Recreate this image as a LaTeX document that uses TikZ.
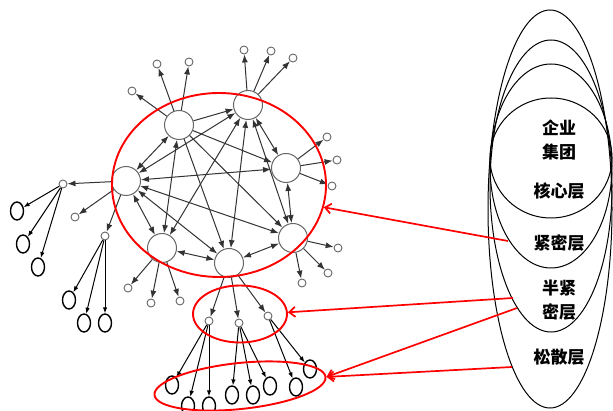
\documentclass[tikz,border=0pt]{standalone}
\usepackage{fontspec}
\newfontfamily\cjk{Noto Sans CJK SC}
\usetikzlibrary{shapes.geometric,arrows.meta}
\tikzset{
  hub/.style={circle,draw=black!60,fill=white,line width=1pt,minimum size=29pt,inner sep=0pt},
  leaf/.style={circle,draw=black!60,fill=white,line width=0.9pt,minimum size=8pt,inner sep=0pt},
  egg/.style={ellipse,draw=black,line width=1.4pt,minimum width=13pt,minimum height=18pt,inner sep=0pt},
  link/.style={draw=black!80,line width=1pt,-{Latex[length=8pt,width=6pt]}},
  both/.style={link,{Latex[length=8pt,width=6pt]}-{Latex[length=8pt,width=6pt]}},
  drop/.style={draw=black,line width=1pt,-{Latex[length=6pt,width=4.5pt]}},
  ring/.style={ellipse,draw=red,line width=1.9pt,inner sep=0pt},
  layer/.style={ellipse,draw=black,line width=1pt,inner sep=0pt},
  tag/.style={font=\cjk\bfseries\fontsize{17}{24}\selectfont,align=center},
  pointer/.style={draw=red,line width=1.7pt,-{Straight Barb[length=6pt,width=10pt]}}
}
\begin{document}
\begin{tikzpicture}[x=1pt,y=-1pt]
  \useasboundingbox (0,0) rectangle (613,411);
  % core group
  \node[hub] (ha) at (179,125) {};
  \node[hub] (hb) at (248,105) {};
  \node[hub] (hc) at (286,168) {};
  \node[hub] (hd) at (126,181) {};
  \node[hub] (he) at (162,248) {};
  \node[hub] (hf) at (229,263) {};
  \node[hub] (hg) at (293,238) {};
  \foreach \s/\t in {ha/hb,ha/hc,ha/hf,ha/hg}
    \draw[link] (\s) -- (\t);
  \foreach \s/\t in {ha/hd,ha/he,hb/hc,hb/hd,hb/he,hb/hf,hb/hg,hc/hd,hc/hg,
                     hd/he,hd/hf,hd/hg,he/hf,hf/hg}
    \draw[both] (\s) -- (\t);
  % tight layer: small leaves round the core
  \node[leaf] (la1) at (132,91) {};
  \node[leaf] (la2) at (157,64) {};
  \node[leaf] (la3) at (189,62) {};
  \node[leaf] (lb1) at (244,50) {};
  \node[leaf] (lb2) at (271,51) {};
  \node[leaf] (lb3) at (293,58) {};
  \node[leaf] (lc1) at (327,137) {};
  \node[leaf] (lc2) at (337,160) {};
  \node[leaf] (lc3) at (332,186) {};
  \node[leaf] (ld1) at (63,184) {};
  \node[leaf] (ld2) at (75,217) {};
  \node[leaf] (ld3) at (105,236) {};
  \node[leaf] (le1) at (128,288) {};
  \node[leaf] (le2) at (151,303) {};
  \node[leaf] (le3) at (180,301) {};
  \node[leaf] (lf1) at (209,321) {};
  \node[leaf] (lf2) at (239,323) {};
  \node[leaf] (lf3) at (268,316) {};
  \node[leaf] (lg1) at (302,283) {};
  \node[leaf] (lg2) at (328,273) {};
  \node[leaf] (lg3) at (338,248) {};
  \foreach \h in {a,b,c,d,e,f,g}
    \foreach \k in {1,2,3}
      \draw[link] (h\h) -- (l\h\k);
  % loose layer: black ovals
  \node[egg] (ea1) at (17,211) {};
  \node[egg] (ea2) at (23,244) {};
  \node[egg] (ea3) at (38,267) {};
  \node[egg] (eb1) at (69,300) {};
  \node[egg] (eb2) at (84,323) {};
  \node[egg] (eb3) at (105,323) {};
  \node[egg] (ec1) at (172,385) {};
  \node[egg] (ec2) at (188,406) {};
  \node[egg] (ec3) at (209,406) {};
  \node[egg] (ed1) at (232,395) {};
  \node[egg] (ed2) at (253,395) {};
  \node[egg] (ed3) at (270,386) {};
  \node[egg] (ee1) at (296,387) {};
  \node[egg] (ee2) at (310,369) {};
  \foreach \s/\t in {ld1/ea1,ld1/ea2,ld1/ea3,ld3/eb1,ld3/eb2,ld3/eb3,
                     lf1/ec1,lf1/ec2,lf1/ec3,lf2/ed1,lf2/ed2,lf2/ed3,lf3/ee1,lf3/ee2}
    \draw[drop] (\s) -- (\t);
  % red rings
  \node[ring,minimum width=214pt,minimum height=184pt] (big) at (219,185) {};
  \node[ring,minimum width=94pt,minimum height=57pt] (mid) at (240,314) {};
  \node[ring,minimum width=172pt,minimum height=46pt,rotate=6] (low) at (240,386) {};
  % nested layers on the right
  \node[layer,minimum width=124pt,minimum height=398pt] (loose) at (550,209) {};
  \node[layer,minimum width=122pt,minimum height=292pt] (semi) at (551,186) {};
  \node[layer,minimum width=122pt,minimum height=204pt] (tight) at (551,166) {};
  \node[layer,minimum width=122pt,minimum height=120pt] (core) at (551,158) {};
  \node[tag] (t1) at (559,140) {企业\\集团};
  \node[tag] (t2) at (559,191) {核心层};
  \node[tag] (t3) at (559,243) {紧密层};
  \node[tag] (t4) at (559,300) {半紧\\密层};
  \node[tag] (t5) at (559,357) {松散层};
  \coordinate (p1) at (508,241);
  \coordinate (p2) at (513,298);
  \coordinate (p3) at (517,308);
  \coordinate (p4) at (512,367);
  \draw[pointer] (p1) -- (big.-12);
  \draw[pointer] (p2) -- (mid.2);
  \draw[pointer] (p3) -- (low.east);
  \draw[pointer] (p4) -- (low.east);
\end{tikzpicture}
\end{document}
